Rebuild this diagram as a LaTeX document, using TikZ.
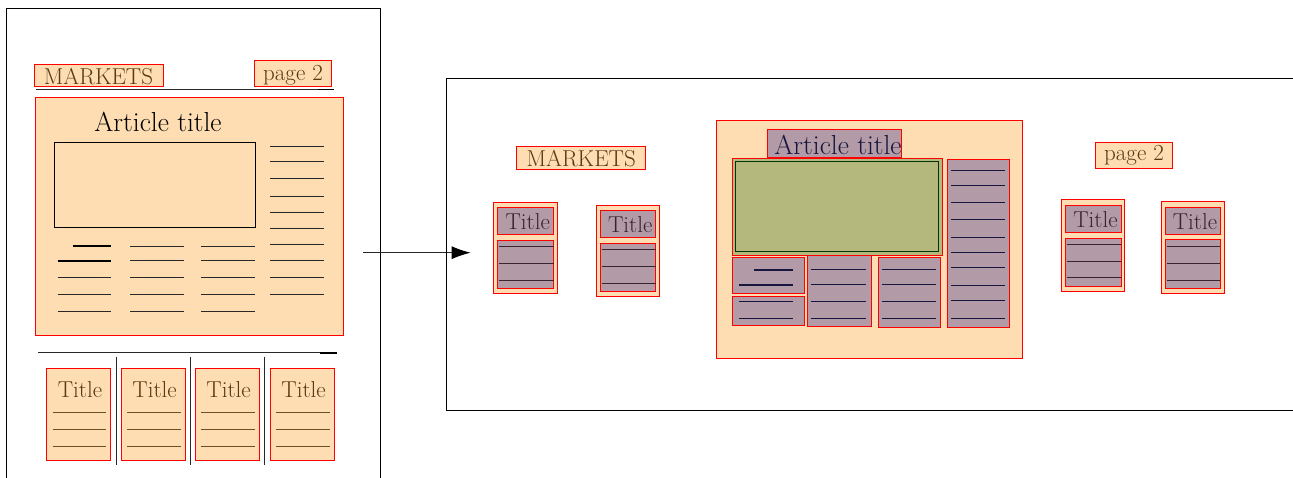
\documentclass[tikz,border=0pt]{standalone}
\usetikzlibrary{fit,arrows.meta}
\definecolor{peach}{RGB}{253,221,177}
\definecolor{mauve}{RGB}{178,155,166}
\definecolor{olivebox}{RGB}{180,184,125}
\definecolor{browntext}{RGB}{88,58,22}
\definecolor{mauvetext}{RGB}{58,36,48}
\definecolor{navyline}{RGB}{22,22,62}
\definecolor{brownline}{RGB}{110,78,40}
\definecolor{greyline}{RGB}{40,40,40}
\begin{document}
\begin{tikzpicture}[x=1pt,y=-1pt,
  frame/.style={draw=black,line width=0.9pt,inner sep=0pt},
  peachbox/.style={draw=red,fill=peach,line width=1pt,inner sep=0pt},
  mauvebox/.style={draw=red,fill=mauve,line width=1pt,inner sep=0pt},
  greenbox/.style={draw=red,fill=olivebox,line width=1pt,inner sep=0pt},
  label/.style={text=browntext,inner sep=0pt,anchor=center,font=\fontsize{23}{27}\selectfont},
  mlabel/.style={text=mauvetext,inner sep=0pt,anchor=center,font=\fontsize{23}{27}\selectfont},
  bigtitle/.style={inner sep=0pt,anchor=center,font=\fontsize{27.5}{32}\selectfont},
  txt/.style={line width=1pt,greyline},
  txtthick/.style={line width=1.8pt,black},
  btxt/.style={line width=1pt,brownline},
  ntxt/.style={line width=1pt,navyline},
  ntxtthick/.style={line width=2pt,navyline},
  rule/.style={line width=0.9pt,greyline},
  ruleend/.style={line width=1.8pt,black}]
\useasboundingbox (0,0) rectangle (1293,478);

% ---------------- left page ----------------
\node[frame,fit={(6,8) (380,500)}] (page) {};
\node[peachbox,fit={(34,65) (163,87)}] (mk) {};
\node[label] (mkt) at (98.5,76.3) {MARKETS};
\node[peachbox,fit={(254,61) (331,87)}] (pg) {};
\node[label] (pgt) at (293,75.5) {page 2};
\draw[rule] (36,89.5) -- (334,89.5);
\draw[ruleend] (318,89.5) -- (334,89.5);

\node[peachbox,fit={(35,97.3) (343,335)}] (art) {};
\node[bigtitle] (arttitle) at (158,121.5) {Article title};
\node[draw=black,line width=1pt,inner sep=0pt,fit={(54.3,142.7) (255,227.3)}] (img) {};
% lines of the left page article
\draw[txtthick] (72.7,246.3) -- (111.3,246.3);
\draw[txtthick] (57.7,261) -- (111.3,261);
\foreach \y in {277.7,294.7,311.7} \draw[txt] (57.7,\y) -- (111.3,\y);
\foreach \y in {246.3,261,277.7,294.7,311.7} {
  \draw[txt] (130,\y) -- (183.7,\y);
  \draw[txt] (201,\y) -- (255,\y);
}
\foreach \y in {146.7,162,179,196.3,212.7,229,244.3,261,277.7,294.7}
  \draw[txt] (270.3,\y) -- (324.3,\y);

% bottom strip
\draw[rule] (38,352.7) -- (337,352.7);
\draw[ruleend] (320,352.7) -- (337,352.7);
\foreach \x in {116,190,264} \draw[rule] (\x,356.7) -- (\x,465);
\foreach \xa/\xb/\n in {46.7/110.3/1,121/185.3/2,195/259.3/3,270/334.3/4} {
  \node[peachbox,fit={(\xa,368.3) (\xb,460)}] (bt\n) {};
  \node[label] (btt\n) at ({(\xa+\xb)/2+1.5},389.3) {Title};
  \foreach \y in {412,429.3,446.7} \draw[btxt] (\xa+6,\y) -- (\xb-4,\y);
}

% arrow
\coordinate (arrS) at (363.3,252.7);
\coordinate (arrE) at (470.7,252.7);
\draw[line width=1pt,greyline,-{Latex[length=19pt,width=13pt,black]}] (arrS) -- (arrE);

% ---------------- right frame ----------------
\node[frame,fit={(446,78.3) (1320,410)}] (rf) {};
\node[peachbox,fit={(516.7,146.7) (645.7,169.7)}] (rmk) {};
\node[label] (rmkt) at (581.2,158.5) {MARKETS};
\node[peachbox,fit={(1095.3,142.3) (1172.7,168.3)}] (rpg) {};
\node[label] (rpgt) at (1134,155.5) {page 2};

% title groups
\foreach \ox/\oy/\oX/\oY/\ty/\tY/\ly/\lY/\la/\lb/\lc/\n in {
  493.3/202.3/557.3/293.3/207.7/234.3/240.3/288.7/246.7/263.3/280.3/1,
  596.3/205.3/659.3/296.7/210.3/237.3/243.7/291.7/249.7/266.3/283.3/2,
  1061.3/199.3/1124.7/291.7/205.3/232.7/238.3/286.3/244.3/261.3/277.7/3,
  1161/201.7/1224/293.3/207.3/234.7/240/288.7/246.7/263.3/280.3/4} {
  \node[peachbox,fit={(\ox,\oy) (\oX,\oY)}] (g\n) {};
  \node[mauvebox,fit={(\ox+4.2,\ty) (\oX-3.6,\tY)}] (gt\n) {};
  \node[mlabel] (gtt\n) at ({(\ox+\oX)/2+2.5},{(\ty+\tY)/2+0.5}) {Title};
  \node[mauvebox,fit={(\ox+4.2,\ly) (\oX-3.6,\lY)}] (gl\n) {};
  \foreach \y in {\la,\lb,\lc} \draw[line width=1pt,mauvetext] (\ox+5.5,\y) -- (\oX-3.8,\y);
}

% central article
\node[peachbox,fit={(716.7,121) (1022.7,358.3)}] (cart) {};
\node[mauvebox,fit={(767.3,129.3) (901.7,157.3)}] (ctitle) {};
\node[bigtitle,text=navyline] (ctitlet) at (838,145) {Article title};
\node[greenbox,fit={(732.3,159) (942.3,256)}] (cimg) {};
\node[draw=black!80!green,line width=1.2pt,inner sep=0pt,fit={(735.7,161.3) (938.7,251.3)}] (cimgin) {};
\node[mauvebox,fit={(947,160) (1009.7,327.3)}] (ccol) {};
\foreach \y in {170.7,186,203,220,237.3,253,268,285.3,301,318.7}
  \draw[ntxt] (951,\y) -- (1005,\y);
\node[mauvebox,fit={(732.7,257.3) (804.3,293.7)}] (cA) {};
\draw[ntxtthick] (754,269.7) -- (792.7,269.7);
\draw[ntxtthick] (739.3,285) -- (792.7,285);
\node[mauvebox,fit={(732.7,297) (804.3,325.7)}] (cB) {};
\foreach \y in {301.3,319} \draw[ntxt] (739.3,\y) -- (792.7,\y);
\node[mauvebox,fit={(807.7,256) (871,326.3)}] (cC) {};
\node[mauvebox,fit={(878.3,257.3) (940.7,327)}] (cD) {};
\foreach \y in {269.7,285,301.3,319} {
  \draw[ntxt] (811,\y) -- (865.7,\y);
  \draw[ntxt] (882,\y) -- (936,\y);
}
\end{tikzpicture}
\end{document}
